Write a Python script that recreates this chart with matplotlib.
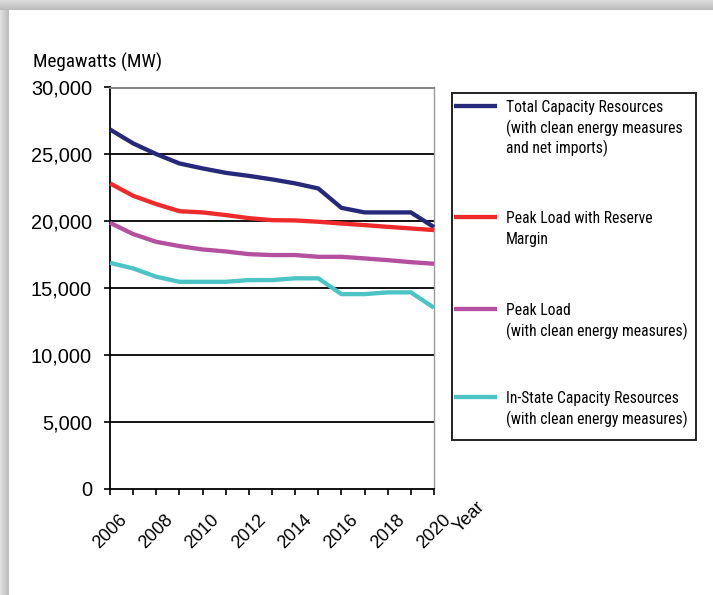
import numpy as np
import matplotlib
matplotlib.use("Agg")
import matplotlib.pyplot as plt
from matplotlib.lines import Line2D
from matplotlib.patches import Rectangle
from matplotlib import font_manager

# ---- data (MW) ----
years = list(range(2006, 2021))
total_capacity = [26860, 25820, 25020, 24320, 23950, 23620, 23390, 23130,
                  22830, 22450, 21000, 20660, 20660, 20660, 19560]
peak_reserve = [22830, 21900, 21280, 20750, 20660, 20460, 20230, 20080,
                20060, 19960, 19830, 19710, 19580, 19460, 19340]
peak_load = [19880, 19040, 18460, 18140, 17890, 17740, 17540, 17470,
             17470, 17340, 17340, 17220, 17090, 16940, 16820]
instate_capacity = [16890, 16470, 15850, 15470, 15470, 15470, 15600, 15600,
                    15730, 15730, 14550, 14550, 14680, 14680, 13530]

series_labels = [
    "Total Capacity Resources\n(with clean energy measures\nand net imports)",
    "Peak Load with Reserve\nMargin",
    "Peak Load\n(with clean energy measures)",
    "In-State Capacity Resources\n(with clean energy measures)",
]
series_colors = ["#26297a", "#ee2a2a", "#b5509f", "#4cc4c6"]
y_ticks = [0, 5000, 10000, 15000, 20000, 25000, 30000]
x_ticks = list(range(2006, 2021, 2))

W, H = 713, 595
fig = plt.figure(figsize=(W / 100, H / 100), dpi=100)

# background panel with a soft gray edge on the top and left
bg = np.ones((H, W, 3))
top = 10
left = 9
for r in range(top):
    bg[r, :, :] = 0.86 - 0.14 * r / top
for c in range(left):
    v = 0.88 - 0.16 * c / left
    bg[top:, c, :] = np.minimum(bg[top:, c, :], v)
bgax = fig.add_axes([0, 0, 1, 1], zorder=-10)
bgax.imshow(bg, aspect="auto", interpolation="bilinear")
bgax.axis("off")

installed = {f.name for f in font_manager.fontManager.ttflist}
narrow_candidates = ["Liberation Sans Narrow", "Roboto Condensed",
                     "Open Sans Condensed", "Roboto"]
narrow = [f for f in narrow_candidates if f in installed][:1] + ["DejaVu Sans"]
plain = ["Liberation Sans", "DejaVu Sans"]

renderer = fig.canvas.get_renderer()


def fitted_text(x, y, s, width_px, **kw):
    """Place text in figure pixels (from top-left), sized to a given width."""
    t = fig.text(x / W, 1 - y / H, s, fontsize=10, **kw)
    w = t.get_window_extent(renderer).width
    t.set_fontsize(10 * width_px / w)
    return t


x0, x1 = 110, 434
y_top, y_bot = 87.5, 488.7
ax = fig.add_axes([x0 / W, 1 - y_bot / H, (x1 - x0) / W, (y_bot - y_top) / H])

all_series = [total_capacity, peak_reserve, peak_load, instate_capacity]
for vals, col in zip(all_series, series_colors):
    ax.plot(years, vals, color=col, lw=3.1, solid_capstyle="butt",
            solid_joinstyle="miter", zorder=3, clip_on=False)

ax.set_xlim(2006, 2020)
ax.set_ylim(0, 30000)
ax.set_yticks(y_ticks)
ax.set_yticklabels([f"{v:,}" for v in y_ticks], family=plain, fontsize=14.4)
ax.set_xticks(years)
ax.set_xticklabels([str(y) if y in x_ticks else "" for y in years],
                   family=plain, fontsize=13, rotation=45, ha="center",
                   va="top")
ax.tick_params(axis="y", direction="out", length=4.5, width=1.2, pad=8.5,
               color="black")
ax.tick_params(axis="x", direction="out", length=4.5, width=1.2, pad=12,
               color="black")

for v in y_ticks[1:-1]:
    ax.axhline(v, color="black", lw=1.3, zorder=1)
ax.spines["left"].set_color("black")
ax.spines["left"].set_linewidth(1.3)
ax.spines["bottom"].set_color("black")
ax.spines["bottom"].set_linewidth(1.3)
ax.spines["top"].set_color("#7a7a7a")
ax.spines["top"].set_linewidth(1.3)
ax.spines["right"].set_color("#9a9a9a")
ax.spines["right"].set_linewidth(1.0)

fitted_text(33, 62, "Megawatts (MW)", 129, family=narrow,
            ha="left", va="center")
fig.text(469 / W, 1 - 517 / H, "Year", family=plain, fontsize=13,
         rotation=45, ha="center", va="center")

# legend box
lx0, lx1, ly0, ly1 = 451.5, 696, 92.5, 439.5
fig.patches.append(Rectangle((lx0 / W, 1 - ly1 / H), (lx1 - lx0) / W,
                             (ly1 - ly0) / H, transform=fig.transFigure,
                             facecolor="white", edgecolor="#222222", lw=1.4))
entry_y = [105.7, 217.3, 308.7, 397.3]
line_gap = 20.8
probe = fig.text(0, 0, "(with clean energy measures)", family=narrow,
                 fontsize=10)
legend_size = 10 * 180 / probe.get_window_extent(renderer).width
probe.remove()
for lab, col, yy in zip(series_labels, series_colors, entry_y):
    fig.lines.append(Line2D([454 / W, 497 / W], [1 - yy / H, 1 - yy / H],
                            transform=fig.transFigure, color=col, lw=3.1,
                            solid_capstyle="butt"))
    for i, part in enumerate(lab.split("\n")):
        fig.text(506 / W, 1 - (yy + 1.5 + i * line_gap) / H, part,
                 family=narrow, fontsize=legend_size, ha="left", va="center")

fig.savefig("out.png", dpi=100)
